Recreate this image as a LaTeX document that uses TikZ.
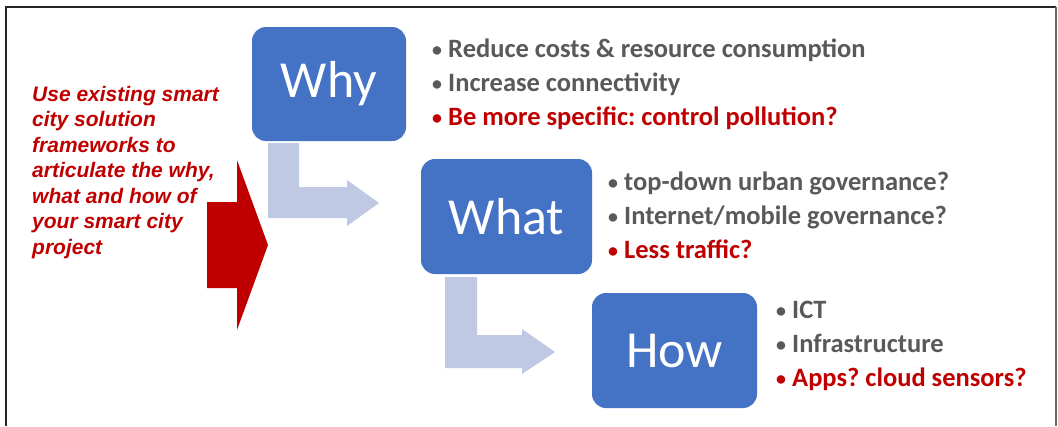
\documentclass[tikz,border=0pt]{standalone}
\usepackage{fontspec}
\setmainfont{Carlito}
\newfontfamily\arialfont{Liberation Sans}
\usetikzlibrary{arrows.meta, positioning, calc}
\definecolor{boxblue}{HTML}{4472C4}
\definecolor{bendblue}{HTML}{BFC9E3}
\definecolor{darkred}{HTML}{C00000}
\definecolor{bulletgrey}{HTML}{595959}
\newcommand{\blt}{\makebox[16pt][l]{\raisebox{1pt}{\scalebox{0.75}{\textbullet}}}}
\frenchspacing

\begin{document}
\begin{tikzpicture}[
        x=1pt, y=-1pt,
        qbox/.style={fill=boxblue, rounded corners=14pt, text=white,
                     font=\fontsize{52}{52}\selectfont, inner sep=0pt},
        blist/.style={anchor=west, align=left, inner sep=0pt, text=bulletgrey,
                      font=\bfseries\fontsize{26.5}{34}\selectfont},
        bendarrow/.style={fill=bendblue, draw=none},
        hint/.style={fill=darkred, draw=none}
    ]
        \useasboundingbox[fill=white] (0,0) rectangle (1058,426);
        % frame
        \draw[line width=2.5pt, black!85] (6,426) -- (6,7) -- (1056,7);
        \draw[line width=1.2pt, black!60] (1056,7) -- (1056,426);

        % bent arrows between the boxes
        \draw[bendarrow] (268,143) -- (299,143) -- (299,187) -- (347,187) -- (347,180)
            -- (379,203) -- (347,226) -- (347,218) -- (268,218) -- cycle;
        \draw[bendarrow] (445,277) -- (477,277) -- (477,335) -- (522,335) -- (522,329)
            -- (555,352) -- (522,374) -- (522,368) -- (445,368) -- cycle;

        \node[qbox, minimum width=154pt, minimum height=114pt] (why)  at (329,84)    {Why};
        \node[qbox, minimum width=171pt, minimum height=115pt] (what) at (506.5,216.5) {What};
        \node[qbox, minimum width=165pt, minimum height=115pt] (how)  at (674.5,350.5) {How};

        \node[blist] (whylist) at (432,84)
            {\blt Reduce costs \& resource consumption\\
             \blt Increase connectivity\\
             {\color{darkred}\blt Be more specific: control pollution?}};
        \node[blist] (whatlist) at (608,215)
            {\blt top-down urban governance?\\
             \blt Internet/mobile governance?\\
             {\color{darkred}\blt Less traffic?}};
        \node[blist] (howlist) at (776,346)
            {\blt ICT\\
             \blt Infrastructure\\
             {\color{darkred}\blt Apps? cloud sensors?}};

        % red hint on the left
        \node[anchor=north west, align=left, inner sep=0pt, text=darkred,
              font=\arialfont\bfseries\itshape\fontsize{21}{25.5}\selectfont] (hinttext) at (32,86)
            {Use existing smart\\city solution\\frameworks to\\articulate the why,\\what and how of\\your smart city\\project};
        \draw[hint] (207,202) -- (237,202) -- (237,160) -- (268,245)
            -- (237,330) -- (237,288) -- (207,288) -- cycle;
    \end{tikzpicture}
\end{document}
